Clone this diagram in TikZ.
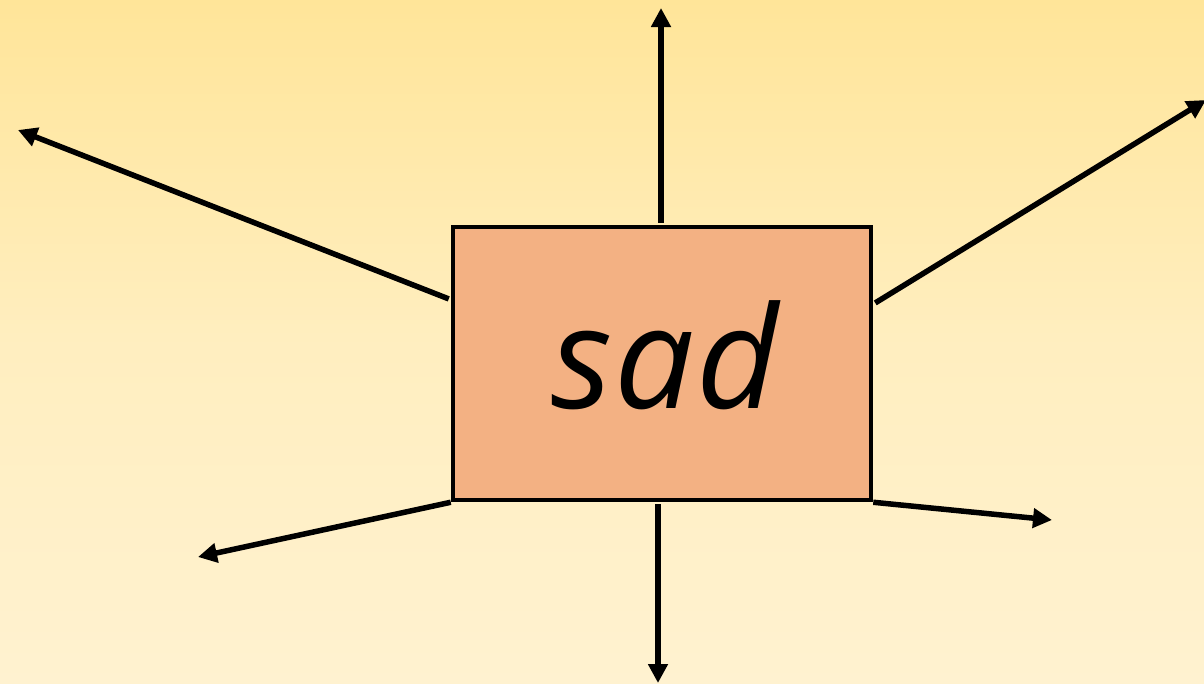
\documentclass[tikz,border=0pt]{standalone}
\usepackage{fontspec}
\newfontfamily\sadfont{Open Sans}
\usetikzlibrary{arrows.meta}
\definecolor{bgtop}{RGB}{255,229,153}
\definecolor{bgbot}{RGB}{255,242,208}
\definecolor{boxfill}{RGB}{243,177,131}
\tikzset{
  arr/.style={line width=5.5pt, -{Triangle[length=19pt,width=19pt]}},
  sadbox/.style={draw=black, line width=4.5pt, fill=boxfill, minimum width=418pt, minimum height=273pt, inner sep=0pt, font=\sadfont\itshape\fontsize{142}{142}\selectfont}
}
\begin{document}
\begin{tikzpicture}[x=1pt,y=-1pt]
\shade[top color=bgtop, bottom color=bgbot, middle color=bgbot!70!bgtop, shading angle=0] (0,0) rectangle (1204,683);
\useasboundingbox (0,0) rectangle (1204,683);
\node[sadbox] (box) at (662,363.5) {\raisebox{18pt}{\kern6pt s\kern2pt a\kern2pt d}};
\coordinate (tT) at (661,8);
\coordinate (tUL) at (18,130);
\coordinate (tUR) at (1206,100);
\coordinate (tLL) at (198,557);
\coordinate (tLR) at (1052,520);
\coordinate (tB) at (658,683);
\draw[arr] ([xshift=-1pt,yshift=2pt]box.north) -- (tT);
\draw[arr] ([xshift=-2pt]box.163.3) -- (tUL);
\draw[arr] ([xshift=2pt]box.16.7) -- (tUR);
\draw[arr] (box.south west) -- (tLL);
\draw[arr] (box.south east) -- (tLR);
\draw[arr] ([xshift=-4pt,yshift=-2pt]box.south) -- (tB);
\end{tikzpicture}
\end{document}
